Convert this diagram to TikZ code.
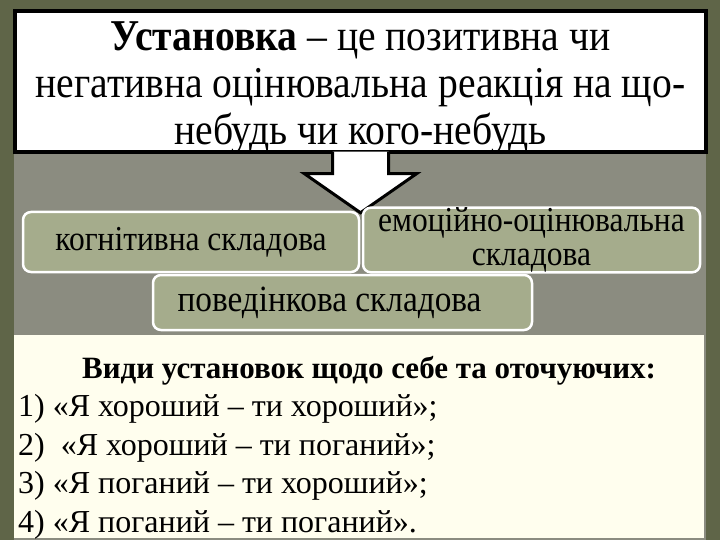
\documentclass[tikz,border=0pt]{standalone}
\usepackage{fontspec}
\setmainfont{Liberation Serif}
\newfontfamily\narrowserif[FakeStretch=0.9]{Liberation Serif}
\definecolor{olivebg}{HTML}{5F6548}
\definecolor{graybg}{HTML}{8B8C80}
\definecolor{sage}{HTML}{A5AC8C}
\definecolor{cream}{HTML}{FFFEEE}
\newcommand{\topsize}{\narrowserif\fontsize{44}{47}\selectfont}
\newcommand{\partsize}{\narrowserif\fontsize{35}{34}\selectfont}
\newcommand{\listsize}{\fontsize{32}{38.5}\selectfont}

\begin{document}
\begin{tikzpicture}[x=1pt,y=-1pt]
        \tikzset{defbox/.style = {draw=black, line width=3.5pt, fill=white, align=center, inner sep=0pt, font=\topsize}}
        \tikzset{partbox/.style = {draw=white, line width=2.5pt, fill=sage, rounded corners=8pt, align=center, inner sep=0pt, font=\partsize}}
        %\tikzset{partbox/.append style = {drop shadow}}
        \fill[olivebg] (0,0) rectangle (720,540);
        \fill[graybg] (14,11) rectangle (706,540);
        \node[defbox, minimum width=691pt, minimum height=141pt, text depth=0pt] (def) at (360.5,81.5)
            {\rule{0pt}{32pt}\textbf{Установка} – це позитивна чи\\негативна оцінювальна реакція на що-\\небудь чи кого-небудь};
        \coordinate (tip) at ([yshift=-59pt]def.south);
        \draw[line width=3pt, fill=white] ([xshift=-28pt,yshift=2pt]def.south) -- ++(0,22) -- ++(-28,0)
            -- (tip) -- ++(56,-39) -- ++(-28,0) -- ([xshift=28pt,yshift=2pt]def.south);
        \node[partbox, minimum width=336pt, minimum height=60pt] (cog) at (191,242) {когнітивна складова};
        \node[partbox, minimum width=337pt, minimum height=60pt] (emo) at (531.5,240) {емоційно-оцінювальна\\складова};
        \node[partbox, minimum width=379pt, minimum height=55pt, font=\narrowserif\fontsize{37}{34}\selectfont] (beh) at (342.5,302.5) {поведінкова складова\hspace*{26pt}};
        \node[fill=cream, minimum width=690pt, minimum height=203pt, inner sep=0pt] (types) at (359,436.5) {};
        \node[anchor=north west, align=left, inner sep=0pt, font=\listsize] (typelist) at (18,356)
            {\hspace*{64pt}{\fontsize{31}{38.5}\selectfont\textbf{Види установок щодо себе та оточуючих:}}\\
             1) «Я хороший – ти хороший»;\\
             2)\ \ «Я хороший – ти поганий»;\\
             3) «Я поганий – ти хороший»;\\
             4) «Я поганий – ти поганий».};
\end{tikzpicture}
\end{document}
